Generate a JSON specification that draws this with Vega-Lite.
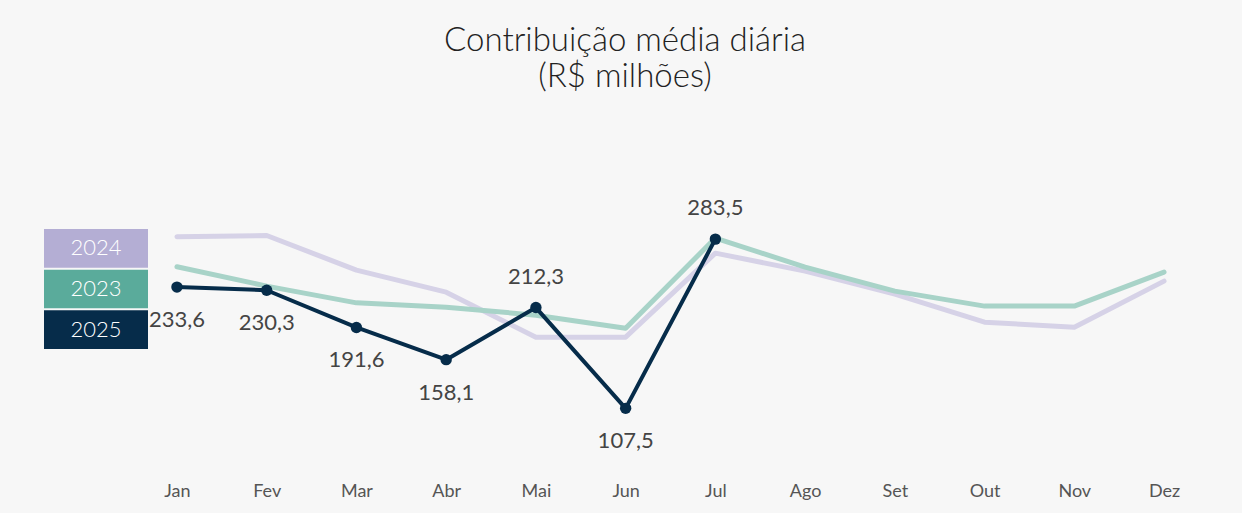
{
  "$schema": "https://vega.github.io/schema/vega-lite/v6.json",
  "background": "#f7f7f7",
  "padding": {"left": 44, "top": 25, "right": 60, "bottom": 23},
  "title": {
    "text": ["Contribuição média diária", "(R$ milhões)"],
    "font": "Lato",
    "fontSize": 33,
    "fontWeight": 300,
    "color": "#222222",
    "lineHeight": 36,
    "anchor": "middle",
    "dx": 12,
    "offset": 103
  },
  "config": {
    "view": {"stroke": null},
    "locale": {"number": {"decimal": ",", "thousands": ".", "grouping": [3], "currency": ["R$", ""]}},
    "font": "Lato"
  },
  "datasets": {
    "series": [
      {"month": "Jan", "year": "2024", "value": 285.9},
      {"month": "Fev", "year": "2024", "value": 287.2},
      {"month": "Mar", "year": "2024", "value": 251.3},
      {"month": "Abr", "year": "2024", "value": 228.3},
      {"month": "Mai", "year": "2024", "value": 181.5},
      {"month": "Jun", "year": "2024", "value": 181.5},
      {"month": "Jul", "year": "2024", "value": 268.9},
      {"month": "Ago", "year": "2024", "value": 250.2},
      {"month": "Set", "year": "2024", "value": 226.3},
      {"month": "Out", "year": "2024", "value": 197.1},
      {"month": "Nov", "year": "2024", "value": 191.9},
      {"month": "Dez", "year": "2024", "value": 239.8},
      {"month": "Jan", "year": "2023", "value": 254.7},
      {"month": "Fev", "year": "2023", "value": 234.6},
      {"month": "Mar", "year": "2023", "value": 217.2},
      {"month": "Abr", "year": "2023", "value": 212.7},
      {"month": "Mai", "year": "2023", "value": 204.4},
      {"month": "Jun", "year": "2023", "value": 190.8},
      {"month": "Jul", "year": "2023", "value": 284.6},
      {"month": "Ago", "year": "2023", "value": 254.4},
      {"month": "Set", "year": "2023", "value": 229.4},
      {"month": "Out", "year": "2023", "value": 213.8},
      {"month": "Nov", "year": "2023", "value": 213.8},
      {"month": "Dez", "year": "2023", "value": 249.2},
      {"month": "Jan", "year": "2025", "value": 233.6},
      {"month": "Fev", "year": "2025", "value": 230.3},
      {"month": "Mar", "year": "2025", "value": 191.6},
      {"month": "Abr", "year": "2025", "value": 158.1},
      {"month": "Mai", "year": "2025", "value": 212.3},
      {"month": "Jun", "year": "2025", "value": 107.5},
      {"month": "Jul", "year": "2025", "value": 283.5}
    ],
    "legend": [
      {"year": "2024"},
      {"year": "2023"},
      {"year": "2025"}
    ]
  },
  "spacing": 0,
  "hconcat": [
    {
      "width": 104,
      "height": 145,
      "data": {"name": "legend"},
      "encoding": {
        "y": {
          "field": "year",
          "type": "nominal",
          "axis": null,
          "scale": {"domain": ["2024", "2023", "2025"], "paddingInner": 0.05, "paddingOuter": 0.307, "align": 1}
        }
      },
      "layer": [
        {
          "mark": {"type": "rect"},
          "encoding": {
            "color": {
              "field": "year",
              "type": "nominal",
              "legend": null,
              "scale": {"domain": ["2024", "2023", "2025"], "range": ["#b4aed4", "#5aab9b", "#062c4a"]}
            }
          }
        },
        {
          "mark": {"type": "text", "color": "#ffffff", "fontSize": 22, "fontWeight": 300, "font": "Lato"},
          "encoding": {"text": {"field": "year", "type": "nominal"}}
        }
      ]
    },
    {
      "width": 1023,
      "height": 250,
      "data": {"name": "series"},
      "encoding": {
        "x": {
          "field": "month",
          "type": "ordinal",
          "scale": {"type": "point", "padding": 0.2, "domain": ["Jan", "Fev", "Mar", "Abr", "Mai", "Jun", "Jul", "Ago", "Set", "Out", "Nov", "Dez"]},
          "axis": {"title": null, "ticks": false, "domain": false, "grid": false, "labelAngle": 0, "labelFontSize": 18, "labelColor": "#555555", "labelPadding": 28, "labelFont": "Lato"}
        },
        "y": {
          "field": "value",
          "type": "quantitative",
          "scale": {"domain": [60, 320], "zero": false, "nice": false},
          "axis": null
        }
      },
      "layer": [
        {
          "transform": [{"filter": "datum.year === '2024'"}],
          "mark": {"type": "line", "color": "#d6d2e7", "strokeWidth": 5, "strokeCap": "round", "strokeJoin": "round"}
        },
        {
          "transform": [{"filter": "datum.year === '2023'"}],
          "mark": {"type": "line", "color": "#a8d3c8", "strokeWidth": 5, "strokeCap": "round", "strokeJoin": "round"}
        },
        {
          "transform": [{"filter": "datum.year === '2025'"}],
          "mark": {"type": "line", "color": "#062c4a", "strokeWidth": 4, "strokeJoin": "round", "point": {"filled": true, "size": 130, "color": "#062c4a"}}
        },
        {
          "transform": [{"filter": "datum.year === '2025' && datum.month !== 'Mai' && datum.month !== 'Jul'"}],
          "mark": {"type": "text", "dy": 33, "fontSize": 22, "color": "#444444", "font": "Lato"},
          "encoding": {"text": {"field": "value", "type": "quantitative", "format": ".1f"}}
        },
        {
          "transform": [{"filter": "datum.year === '2025' && (datum.month === 'Mai' || datum.month === 'Jul')"}],
          "mark": {"type": "text", "dy": -31, "fontSize": 22, "color": "#444444", "font": "Lato"},
          "encoding": {"text": {"field": "value", "type": "quantitative", "format": ".1f"}}
        }
      ]
    }
  ]
}
